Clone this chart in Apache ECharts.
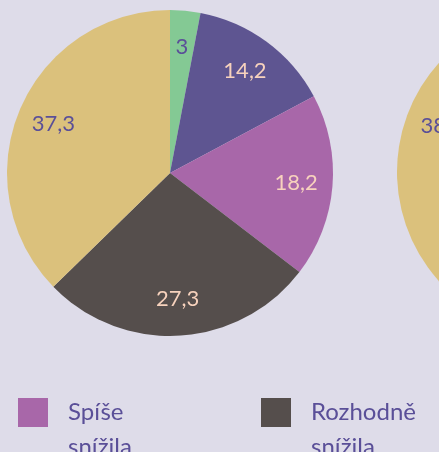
<!DOCTYPE html>
<html>
<head>
<meta charset="utf-8">
<script src="https://cdn.jsdelivr.net/npm/echarts@6/dist/echarts.min.js"></script>
<style>
  html, body { margin: 0; padding: 0; background: #dedce9; }
  #chart { width: 439px; height: 452px; }
</style>
</head>
<body>
<div id="chart"></div>
<script>
// categories and values (in %), clockwise from the top
var categories = ['Rozhodně zvýšila', 'Spíše zvýšila', 'Spíše snížila', 'Rozhodně snížila', 'Nezměnila se'];
var valuesLeft = [3, 14.2, 18.2, 27.3, 37.3];
var valuesRight = [3.1, 12.6, 20.1, 26.1, 38.1];
var legendItems = ['Spíše snížila', 'Rozhodně snížila'];

var colors = ['#84c994', '#5e5591', '#a867a9', '#554e4c', '#dbc17c'];
var labelColors = ['#5a4f98', '#f7d2bd', '#f7d2bd', '#f7d2bd', '#5a4f98'];
var font = 'Lato, "Open Sans", sans-serif';

function toData(values) {
  return values.map(function (v, i) {
    return { name: categories[i], value: v, itemStyle: { color: colors[i] } };
  });
}

function labelData(values) {
  return values.map(function (v, i) {
    return {
      name: categories[i], value: v,
      label: { color: labelColors[i] }
    };
  });
}

function pieSeries(center, values) {
  return [
    {
      type: 'pie',
      center: center,
      radius: [0, 163],
      startAngle: 90,
      clockwise: true,
      label: { show: false },
      labelLine: { show: false },
      itemStyle: { borderWidth: 0 },
      emphasis: { disabled: true },
      data: toData(values)
    },
    {
      // transparent ring, only used to place the labels further out
      type: 'pie',
      center: center,
      radius: [84, 163],
      startAngle: 90,
      clockwise: true,
      silent: true,
      legendHoverLink: false,
      itemStyle: { color: 'transparent', borderWidth: 0 },
      label: {
        show: true,
        position: 'inside',
        fontFamily: font,
        fontSize: 22,
        formatter: function (p) { return String(p.value).replace('.', ','); }
      },
      labelLine: { show: false },
      data: labelData(values)
    }
  ];
}

var chart = echarts.init(document.getElementById('chart'));
var legendText = {
  fontFamily: font,
  fontSize: 24,
  color: '#5a4f98',
  lineHeight: 35,
  padding: [0, 0, 0, 15]
};
function legendAt(name, left) {
  return {
    data: [name],
    left: left, top: 360,
    padding: 0,
    itemWidth: 30, itemHeight: 29,
    icon: 'rect',
    // empty first line so that the first word sits level with the square
    formatter: function (n) { return '\n' + n.replace(' ', '\n'); },
    textStyle: legendText,
    selectedMode: false
  };
}
chart.setOption({
  backgroundColor: '#dedce9',
  animation: false,
  legend: [legendAt(legendItems[0], 18), legendAt(legendItems[1], 261)],
  series: pieSeries([170, 173], valuesLeft).concat(pieSeries([560, 172], valuesRight))
});
</script>
</body>
</html>
